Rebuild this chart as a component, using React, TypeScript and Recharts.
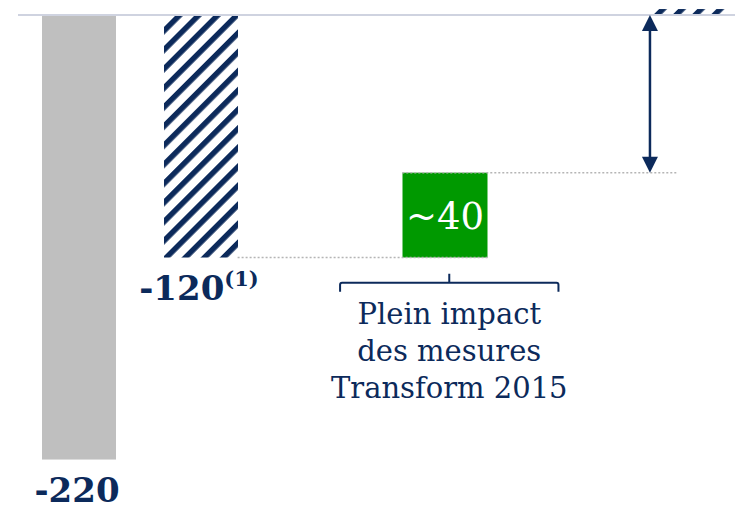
import { Bar, BarChart, ReferenceLine, XAxis, YAxis } from "recharts";

// waterfall slots (two empty ones keep the spacing of the slide)
const categories = ["depart", "base", "vide1", "transform", "vide2", "objectif"];
const floorValues = [0, 0, 0, -78, 0, 0];
const deltaValues = [-220, -120, 0, -42, 0, 3];
const barLabels = ["-220", "-120", "", "~40", "", ""];
const footnotes = ["", "(1)", "", "", "", ""];
const braceNote = ["Plein impact", "des mesures", "Transform 2015"];

// annotations, in slot units on a hidden numeric axis (0..6)
const guideLow = { y: -120, from: 1.8, to: 3.85 };
const guideHigh = { y: -78, from: 3.15, to: 5.4 };
const arrowGap = { x: 5.18, from: 0, to: -78 };
const brace = { y: -132.5, from: 2.64, to: 4.43 };

const NAVY = "#0c2a5b";
const FONT = "'DejaVu Serif', serif";
const barFills = ["#bfbfbf", "url(#hatch)", "none", "#009900", "none", "url(#hatch)"];

const data = categories.map((name, i) => ({
  name,
  slot: i + 0.5,
  floor: floorValues[i],
  delta: deltaValues[i],
}));

const DeltaShape = (p: any) => {
  const i = categories.indexOf(p.payload?.name);
  if (i < 0 || !deltaValues[i]) return null;
  const top = Math.min(p.y, p.y + p.height);
  const bottom = Math.max(p.y, p.y + p.height);
  const floating = floorValues[i] !== 0;
  const w = floating ? 85 : p.width;
  const cx = p.x + p.width / 2;
  return (
    <g>
      <rect x={cx - w / 2} y={top} width={w} height={bottom - top} fill={barFills[i]} />
      {barLabels[i] &&
        (floating ? (
          <text x={cx} y={(top + bottom) / 2 + 14} textAnchor="middle" fill="#fff" fontSize={37} fontFamily={FONT}>
            {barLabels[i]}
          </text>
        ) : (
          <text x={cx - 2} y={bottom + 42} textAnchor="middle" fill={NAVY} fontSize={34} fontWeight="bold" fontFamily={FONT}>
            {barLabels[i]}
            {footnotes[i] && (
              <tspan fontSize={21} dy={-14}>
                {footnotes[i]}
              </tspan>
            )}
          </text>
        ))}
    </g>
  );
};

const ArrowShape = (p: any) => {
  const x = p.x1;
  const yTop = Math.min(p.y1, p.y2);
  const yBot = Math.max(p.y1, p.y2);
  return (
    <g fill={NAVY} stroke="none">
      <line x1={x} x2={x} y1={yTop + 10} y2={yBot - 10} stroke={NAVY} strokeWidth={2.5} />
      <path d={`M${x},${yTop} L${x + 8},${yTop + 16} L${x - 8},${yTop + 16} Z`} />
      <path d={`M${x},${yBot} L${x + 8},${yBot - 16} L${x - 8},${yBot - 16} Z`} />
    </g>
  );
};

const BraceShape = (p: any) => {
  const { x1, x2, y1: y } = p;
  const cx = (x1 + x2) / 2;
  return (
    <g>
      <path
        d={`M${x1},${y + 9} V${y + 2} Q${x1},${y} ${x1 + 2},${y} H${x2 - 2} Q${x2},${y} ${x2},${y + 2} V${y + 9} M${cx},${y} V${y - 9}`}
        fill="none"
        stroke={NAVY}
        strokeWidth={2}
      />
      {braceNote.map((line, k) => (
        <text key={line} x={cx} y={y + 41 + k * 37} textAnchor="middle" fill={NAVY} fontSize={29} fontFamily={FONT}>
          {line}
        </text>
      ))}
    </g>
  );
};

export default function App() {
  return (
    <div style={{ position: "absolute", left: 0, top: 0, background: "#fff" }}>
      <BarChart
        width={735}
        height={506}
        data={data}
        barSize={74}
        margin={{ top: 5, right: -15, bottom: 0, left: 18 }}
      >
        <defs>
          <pattern id="hatch" patternUnits="userSpaceOnUse" width={13.5} height={13.5} patternTransform="rotate(45)">
            <rect width={13.5} height={13.5} fill="#fff" />
            <rect width={5.5} height={13.5} fill={NAVY} />
          </pattern>
        </defs>
        <XAxis dataKey="name" hide />
        <XAxis xAxisId="ann" dataKey="slot" type="number" domain={[0, 6]} allowDataOverflow hide />
        <YAxis domain={[-243, 5]} allowDataOverflow hide />
        <Bar dataKey="floor" stackId="w" fill="none" isAnimationActive={false} />
        <Bar dataKey="delta" stackId="w" shape={DeltaShape} isAnimationActive={false} />
        <ReferenceLine y={0} stroke="#cfd3e0" strokeWidth={2} />
        <ReferenceLine
          xAxisId="ann"
          segment={[{ x: guideLow.from, y: guideLow.y }, { x: guideLow.to, y: guideLow.y }]}
          stroke="#b5b5b5"
          strokeWidth={1.5}
          strokeDasharray="2 2"
          ifOverflow="visible"
        />
        <ReferenceLine
          xAxisId="ann"
          segment={[{ x: guideHigh.from, y: guideHigh.y }, { x: guideHigh.to, y: guideHigh.y }]}
          stroke="#b5b5b5"
          strokeWidth={1.5}
          strokeDasharray="2 2"
          ifOverflow="visible"
        />
        <ReferenceLine
          xAxisId="ann"
          segment={[{ x: arrowGap.x, y: arrowGap.from }, { x: arrowGap.x, y: arrowGap.to }]}
          shape={ArrowShape}
          ifOverflow="visible"
        />
        <ReferenceLine
          xAxisId="ann"
          segment={[{ x: brace.from, y: brace.y }, { x: brace.to, y: brace.y }]}
          shape={BraceShape}
          ifOverflow="visible"
        />
      </BarChart>
    </div>
  );
}
